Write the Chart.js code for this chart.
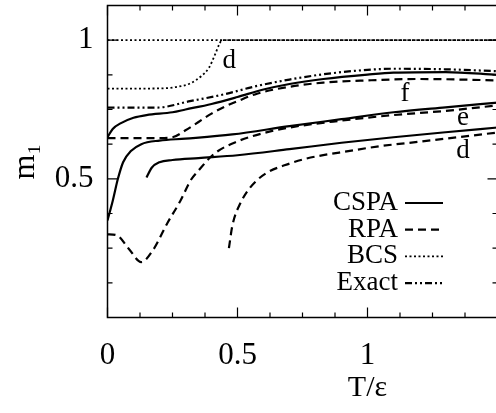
<!DOCTYPE html>
<html>
<head>
<meta charset="utf-8">
<script src="https://cdn.jsdelivr.net/npm/chart.js@4"></script>
<style>
  html, body { margin: 0; padding: 0; background: #fff; overflow: hidden; }
  #wrap { width: 496px; height: 413px; overflow: hidden; }
</style>
</head>
<body>
<div id="wrap"><canvas id="c" width="512" height="413"></canvas></div>
<script>
// m1 against T/eps
const cspaF_T = [0, 0.02, 0.05, 0.1, 0.15, 0.25, 0.3, 0.4, 0.5, 0.6, 0.7, 0.83, 1.0, 1.1, 1.3, 1.5];
const cspaF_m = [0.65, 0.68, 0.70, 0.72, 0.73, 0.74, 0.75, 0.77, 0.795, 0.822, 0.842, 0.86, 0.876, 0.883, 0.885, 0.875];

const cspaE_T = [0, 0.02, 0.04, 0.06, 0.09, 0.13, 0.2, 0.3, 0.48, 0.7, 0.9, 1.1, 1.3, 1.5];
const cspaE_m = [0.35, 0.42, 0.50, 0.56, 0.60, 0.625, 0.638, 0.645, 0.66, 0.69, 0.715, 0.74, 0.758, 0.775];

const cspaD_T = [0.15, 0.17, 0.2, 0.25, 0.35, 0.5, 0.7, 0.9, 1.1, 1.3, 1.5];
const cspaD_m = [0.505, 0.54, 0.56, 0.568, 0.575, 0.585, 0.607, 0.63, 0.65, 0.668, 0.685];

const rpaF_T = [0, 0.2, 0.25, 0.3, 0.35, 0.4, 0.45, 0.5, 0.575, 0.7, 0.83, 1.0, 1.2, 1.5];
const rpaF_m = [0.647, 0.647, 0.65, 0.675, 0.705, 0.735, 0.76, 0.78, 0.807, 0.832, 0.847, 0.855, 0.86, 0.855];

const rpaE_T = [0, 0.035, 0.08, 0.13, 0.175, 0.23, 0.28, 0.32, 0.35, 0.41, 0.5, 0.6, 0.7, 0.9, 1.1, 1.3, 1.5];
const rpaE_m = [0.30, 0.297, 0.25, 0.20, 0.243, 0.34, 0.42, 0.495, 0.53, 0.59, 0.635, 0.665, 0.685, 0.71, 0.73, 0.745, 0.765];

const rpaD_T = [0.467, 0.48, 0.51, 0.575, 0.7, 0.96, 1.05, 1.21, 1.5];
const rpaD_m = [0.25, 0.33, 0.41, 0.495, 0.555, 0.605, 0.618, 0.635, 0.667];

const bcsD_T = [0, 0.2, 0.27, 0.32, 0.36, 0.39, 0.41, 0.43, 0.44, 1.5];
const bcsD_m = [0.825, 0.826, 0.832, 0.845, 0.87, 0.9, 0.94, 0.985, 1.0, 1.0];

const bcsN_T = [0, 1.5];
const bcsN_m = [1, 1];

const exactF_T = [0, 0.19, 0.317, 0.45, 0.575, 0.7, 0.83, 1.0, 1.1, 1.3, 1.5];
const exactF_m = [0.757, 0.757, 0.78, 0.805, 0.835, 0.858, 0.877, 0.893, 0.897, 0.895, 0.888];

const xLabels = [0, 0.5, 1];
const yLabels = [0.5, 1];

const curveNames = ['d', 'f', 'e', 'd'];
const curveNameT = [0.468, 1.144, 1.367, 1.367];
const curveNameM = [0.926, 0.807, 0.718, 0.602];

const legendNames = ['CSPA', 'RPA', 'BCS', 'Exact'];

const FONT = "'Liberation Serif', 'DejaVu Serif', serif";

// line styles
const styles = {
    CSPA:  { borderDash: [], borderWidth: 2.2 },
    RPA:   { borderDash: [8, 5], borderWidth: 2.2 },
    BCS:   { borderDash: [2, 2.5], borderWidth: 1.8 },
    Exact: { borderDash: [7, 3, 2, 3, 2, 3], borderWidth: 2.2 }
};

function pts(T, m) {
    return T.map((t, i) => ({ x: t, y: m[i] }));
}

function series(label, kind, T, m) {
    return Object.assign({
        label: label,
        data: pts(T, m),
        borderColor: '#000',
        backgroundColor: '#000',
        pointRadius: 0,
        fill: false,
        cubicInterpolationMode: 'monotone'
    }, styles[kind]);
}

function isIn(list, v) {
    return list.some(l => Math.abs(l - v) < 1e-6);
}

// frame with inward ticks, curve letters, legend, x title
const decorations = {
    id: 'decorations',
    afterDatasetsDraw(chart) {
        const { ctx, chartArea: a, scales: { x, y } } = chart;
        ctx.save();
        ctx.strokeStyle = '#000';
        ctx.lineWidth = 1.5;
        ctx.setLineDash([]);
        ctx.strokeRect(a.left, a.top, a.right - a.left, a.bottom - a.top);

        ctx.lineWidth = 1.2;
        ctx.beginPath();
        x.ticks.forEach(t => {
            const px = x.getPixelForValue(t.value);
            const len = isIn(xLabels, t.value) ? 10 : 5;
            ctx.moveTo(px, a.bottom); ctx.lineTo(px, a.bottom - len);
            ctx.moveTo(px, a.top); ctx.lineTo(px, a.top + len);
        });
        y.ticks.forEach(t => {
            const py = y.getPixelForValue(t.value);
            const len = isIn(yLabels, t.value) ? 10 : 5;
            ctx.moveTo(a.left, py); ctx.lineTo(a.left + len, py);
            ctx.moveTo(a.right, py); ctx.lineTo(a.right - len, py);
        });
        ctx.stroke();

        ctx.fillStyle = '#000';
        ctx.font = '27px ' + FONT;
        ctx.textAlign = 'center';
        ctx.textBaseline = 'middle';
        curveNames.forEach((n, i) => {
            ctx.fillText(n, x.getPixelForValue(curveNameT[i]), y.getPixelForValue(curveNameM[i]));
        });

        // legend: text right aligned, sample line to the right
        const textRight = 398, sx0 = 405, sx1 = 443, top = 203, step = 26.7;
        ctx.textAlign = 'right';
        legendNames.forEach((n, i) => {
            const cy = top + i * step;
            ctx.fillText(n, textRight, cy);
            const s = styles[n];
            ctx.lineWidth = s.borderWidth;
            ctx.setLineDash(s.borderDash);
            ctx.beginPath();
            ctx.moveTo(sx0, cy);
            ctx.lineTo(sx1, cy);
            ctx.stroke();
        });
        ctx.setLineDash([]);

        ctx.font = '30px ' + FONT;
        ctx.textAlign = 'center';
        ctx.fillText('T/\u03b5', x.getPixelForValue(1.0), 388);
        ctx.restore();
    }
};

new Chart(document.getElementById('c'), {
    type: 'line',
    data: {
        datasets: [
            series('CSPA f', 'CSPA', cspaF_T, cspaF_m),
            series('CSPA e', 'CSPA', cspaE_T, cspaE_m),
            series('CSPA d', 'CSPA', cspaD_T, cspaD_m),
            series('RPA f', 'RPA', rpaF_T, rpaF_m),
            series('RPA e', 'RPA', rpaE_T, rpaE_m),
            series('RPA d', 'RPA', rpaD_T, rpaD_m),
            series('BCS d', 'BCS', bcsD_T, bcsD_m),
            series('BCS e, f', 'BCS', bcsN_T, bcsN_m),
            series('Exact f', 'Exact', exactF_T, exactF_m)
        ]
    },
    options: {
        responsive: false,
        animation: false,
        layout: { padding: { top: 5.5, right: 14.5, left: 0, bottom: 0 } },
        plugins: {
            legend: { display: false },
            tooltip: { enabled: false }
        },
        scales: {
            x: {
                type: 'linear',
                min: 0,
                max: 1.5,
                grid: { display: false, drawTicks: false },
                border: { display: false },
                afterFit(scale) {
                    scale.height = 95.5;
                    scale.paddingLeft = 0;
                    scale.paddingRight = 0;
                },
                ticks: {
                    stepSize: 0.125,
                    autoSkip: false,
                    maxRotation: 0,
                    padding: 20,
                    color: '#000',
                    font: { family: FONT, size: 31 },
                    callback: v => isIn(xLabels, v) ? String(v) : ''
                }
            },
            y: {
                type: 'linear',
                min: 0,
                max: 1.125,
                grid: { display: false, drawTicks: false },
                border: { display: false },
                afterFit(scale) {
                    scale.width = 107.5;
                    scale.paddingTop = 0;
                    scale.paddingBottom = 0;
                },
                ticks: {
                    stepSize: 0.125,
                    autoSkip: false,
                    padding: 14,
                    color: '#000',
                    font: { family: FONT, size: 31 },
                    callback: v => isIn(yLabels, v) ? String(v) : ''
                },
                title: {
                    display: true,
                    text: 'm\u2081',
                    color: '#000',
                    padding: { top: 6, bottom: 0 },
                    font: { family: FONT, size: 32 }
                }
            }
        }
    },
    plugins: [decorations]
});
</script>
</body>
</html>
